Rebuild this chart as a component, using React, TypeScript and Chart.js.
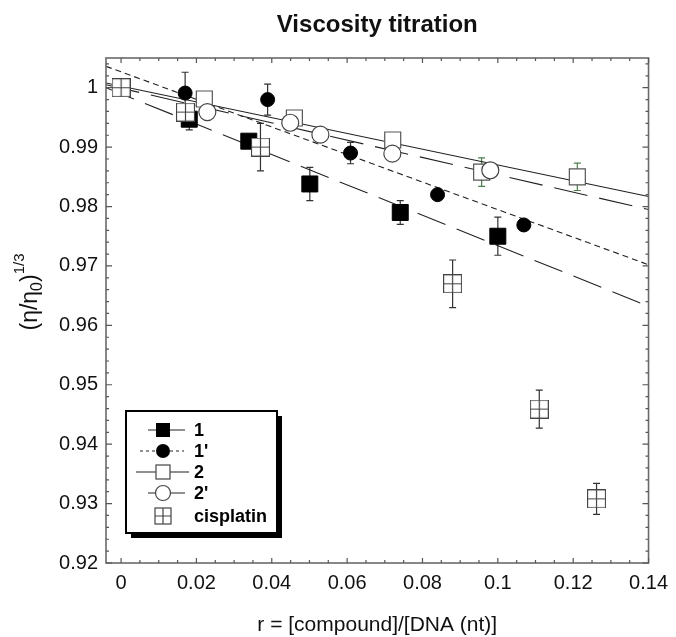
import React, { useEffect, useRef } from 'react';
import { Chart, registerables } from 'chart.js';
Chart.register(...registerables);

const FONT = '"Liberation Sans", Arial, Helvetica, sans-serif';

const X_MIN = -0.004;
const X_MAX = 0.14;
const Y_MIN = 0.92;
const Y_MAX = 1.005;

const xTickValues = [0, 0.02, 0.04, 0.06, 0.08, 0.1, 0.12, 0.14];
const xTickLabels = ['0', '0.02', '0.04', '0.06', '0.08', '0.1', '0.12', '0.14'];
const yTickValues = [0.92, 0.93, 0.94, 0.95, 0.96, 0.97, 0.98, 0.99, 1.0];
const yTickLabels = ['0.92', '0.93', '0.94', '0.95', '0.96', '0.97', '0.98', '0.99', '1'];

// series 1 (filled squares)
const s1X = [0, 0.0181, 0.0339, 0.0501, 0.0741, 0.1];
const s1Y = [1.0, 0.9947, 0.991, 0.9838, 0.979, 0.975];
const s1Err = [0, 0.0018, 0.001, 0.0028, 0.002, 0.0032];

// series 1' (filled circles)
const s1pX = [0, 0.017, 0.0389, 0.0609, 0.084, 0.1069];
const s1pY = [1.0, 0.9991, 0.998, 0.989, 0.982, 0.9769];
const s1pErr = [0, 0.0035, 0.0026, 0.0018, 0, 0];

// series 2 (open squares)
const s2X = [0, 0.0221, 0.046, 0.0721, 0.0957, 0.1211];
const s2Y = [1.0, 0.9981, 0.9949, 0.9912, 0.9858, 0.985];
const s2Err = [0, 0.001, 0.0012, 0.0008, 0.0024, 0.0023];

// series 2' (open circles)
const s2pX = [0, 0.0229, 0.0449, 0.0529, 0.072, 0.098];
const s2pY = [1.0, 0.9959, 0.9941, 0.9921, 0.9889, 0.9861];

// cisplatin (crossed squares)
const cisX = [0, 0.0171, 0.037, 0.088, 0.111, 0.1262];
const cisY = [1.0, 0.9959, 0.99, 0.967, 0.9459, 0.9308];
const cisErr = [0, 0, 0.004, 0.004, 0.0032, 0.0026];

// linear fits (end points)
const fit1X = [-0.004, 0.14];
const fit1Y = [1.0, 0.9632];
const fit1pX = [-0.004, 0.14];
const fit1pY = [1.0036, 0.9702];
const fit2X = [-0.004, 0.14];
const fit2Y = [1.0008, 0.9817];
const fit2pX = [-0.004, 0.14];
const fit2pY = [1.0005, 0.9795];

const pts = (xs: number[], ys: number[]) => xs.map((x, i) => ({ x, y: ys[i] }));

function makeCrossSquare(size: number, fill: string) {
  const c = document.createElement('canvas');
  c.width = size + 1;
  c.height = size + 1;
  const g = c.getContext('2d')!;
  g.fillStyle = fill;
  g.fillRect(0.5, 0.5, size, size);
  g.strokeStyle = '#444';
  g.lineWidth = 1.2;
  g.strokeRect(0.5, 0.5, size, size);
  g.beginPath();
  const m = (size + 1) / 2;
  g.moveTo(m, 0.5);
  g.lineTo(m, size + 0.5);
  g.moveTo(0.5, m);
  g.lineTo(size + 0.5, m);
  g.stroke();
  return c;
}

function drawYTitle(ctx: CanvasRenderingContext2D, cx: number, cy: number) {
  const segs = [
    { t: '(\u03b7/\u03b7', size: 23, dy: 0 },
    { t: '0', size: 16, dy: 7 },
    { t: ')', size: 23, dy: 0 },
    { t: '1/3', size: 15, dy: -11 },
  ];
  ctx.save();
  let total = 0;
  const widths = segs.map((s) => {
    ctx.font = `${s.size}px ${FONT}`;
    const w = ctx.measureText(s.t).width;
    total += w;
    return w;
  });
  ctx.translate(cx, cy);
  ctx.rotate(-Math.PI / 2);
  ctx.fillStyle = '#111';
  ctx.textBaseline = 'middle';
  ctx.textAlign = 'left';
  let x = -total / 2;
  segs.forEach((s, i) => {
    ctx.font = `${s.size}px ${FONT}`;
    ctx.fillText(s.t, x, s.dy);
    x += widths[i];
  });
  ctx.restore();
}

const decorPlugin = {
  id: 'decor',
  beforeDatasetsDraw(chart: any) {
    const ctx = chart.ctx as CanvasRenderingContext2D;
    const xs = chart.scales.x;
    const ys = chart.scales.y;
    ctx.save();
    chart.data.datasets.forEach((ds: any) => {
      if (!ds.errors) return;
      ctx.strokeStyle = ds.errorColor || '#333';
      ctx.lineWidth = 1.2;
      ds.data.forEach((p: any, i: number) => {
        const e = ds.errors[i];
        if (!e) return;
        const px = xs.getPixelForValue(p.x);
        const yt = ys.getPixelForValue(p.y + e);
        const yb = ys.getPixelForValue(p.y - e);
        ctx.beginPath();
        ctx.moveTo(px, yt);
        ctx.lineTo(px, yb);
        ctx.moveTo(px - 3.5, yt);
        ctx.lineTo(px + 3.5, yt);
        ctx.moveTo(px - 3.5, yb);
        ctx.lineTo(px + 3.5, yb);
        ctx.stroke();
      });
    });
    ctx.restore();
  },
  afterDraw(chart: any) {
    const ctx = chart.ctx as CanvasRenderingContext2D;
    const a = chart.chartArea;
    const xs = chart.scales.x;
    const ys = chart.scales.y;
    ctx.save();
    // frame
    ctx.strokeStyle = '#6a6a6a';
    ctx.lineWidth = 1.6;
    ctx.strokeRect(a.left, a.top, a.right - a.left, a.bottom - a.top);
    // ticks
    ctx.lineWidth = 1.2;
    ctx.strokeStyle = '#555';
    ctx.beginPath();
    for (let k = 0; k <= 28; k++) {
      const v = k * 0.005;
      const px = xs.getPixelForValue(v);
      const len = k % 4 === 0 ? 5 : 3;
      ctx.moveTo(px, a.bottom);
      ctx.lineTo(px, a.bottom - len);
      ctx.moveTo(px, a.top);
      ctx.lineTo(px, a.top + len);
    }
    for (let k = 0; k <= 42; k++) {
      const v = 0.92 + k * 0.002;
      if (v > Y_MAX + 1e-9) break;
      const py = ys.getPixelForValue(v);
      const len = k % 5 === 0 ? 6 : 3;
      ctx.moveTo(a.left, py);
      ctx.lineTo(a.left + len, py);
      ctx.moveTo(a.right, py);
      ctx.lineTo(a.right - len, py);
    }
    ctx.stroke();

    // title
    ctx.fillStyle = '#111';
    ctx.font = `bold 24px ${FONT}`;
    ctx.textAlign = 'center';
    ctx.textBaseline = 'middle';
    ctx.fillText('Viscosity titration', (a.left + a.right) / 2, 25);

    // x title
    ctx.font = `21px ${FONT}`;
    ctx.fillText('r = [compound]/[DNA (nt)]', (a.left + a.right) / 2, 625);

    // y title
    drawYTitle(ctx, 31, 292);

    // legend
    const L = { x: 126, y: 411, w: 151, h: 122 };
    ctx.fillStyle = '#000';
    ctx.fillRect(L.x + 5, L.y + 5, L.w, L.h);
    ctx.fillStyle = '#fff';
    ctx.fillRect(L.x, L.y, L.w, L.h);
    ctx.strokeStyle = '#000';
    ctx.lineWidth = 2;
    ctx.strokeRect(L.x, L.y, L.w, L.h);

    const sx = 163;
    const rows = [430, 451, 472, 493, 516];
    const labels = ['1', "1'", '2', "2'", 'cisplatin'];
    ctx.lineWidth = 1.2;
    // row 1
    ctx.strokeStyle = '#222';
    ctx.beginPath();
    ctx.moveTo(148, rows[0]);
    ctx.lineTo(185, rows[0]);
    ctx.stroke();
    ctx.fillStyle = '#000';
    ctx.fillRect(sx - 7, rows[0] - 7, 14, 14);
    // row 1'
    ctx.setLineDash([3, 3]);
    ctx.beginPath();
    ctx.moveTo(140, rows[1]);
    ctx.lineTo(184, rows[1]);
    ctx.stroke();
    ctx.setLineDash([]);
    ctx.beginPath();
    ctx.arc(sx, rows[1], 7, 0, Math.PI * 2);
    ctx.fill();
    // row 2
    ctx.beginPath();
    ctx.moveTo(136, rows[2]);
    ctx.lineTo(189, rows[2]);
    ctx.stroke();
    ctx.fillStyle = '#fff';
    ctx.strokeStyle = '#444';
    ctx.fillRect(sx - 7, rows[2] - 7, 14, 14);
    ctx.strokeRect(sx - 7, rows[2] - 7, 14, 14);
    // row 2'
    ctx.strokeStyle = '#222';
    ctx.beginPath();
    ctx.moveTo(148, rows[3]);
    ctx.lineTo(185, rows[3]);
    ctx.stroke();
    ctx.beginPath();
    ctx.arc(sx, rows[3], 7.5, 0, Math.PI * 2);
    ctx.fill();
    ctx.strokeStyle = '#444';
    ctx.stroke();
    // row cisplatin
    ctx.strokeStyle = '#444';
    ctx.strokeRect(sx - 8, rows[4] - 8, 16, 16);
    ctx.beginPath();
    ctx.moveTo(sx, rows[4] - 8);
    ctx.lineTo(sx, rows[4] + 8);
    ctx.moveTo(sx - 8, rows[4]);
    ctx.lineTo(sx + 8, rows[4]);
    ctx.stroke();

    ctx.fillStyle = '#000';
    ctx.font = `bold 18px ${FONT}`;
    ctx.textAlign = 'left';
    ctx.textBaseline = 'middle';
    labels.forEach((t, i) => ctx.fillText(t, 194, rows[i] + 1));
    ctx.restore();
  },
};

export default function App() {
  const ref = useRef<HTMLCanvasElement>(null);
  useEffect(() => {
    document.body.style.margin = '0';
    const canvas = ref.current!;
    const cisStyle = makeCrossSquare(18, '#fff');
    const lineDs = (xs: number[], ys: number[], dash: number[]) => ({
      data: pts(xs, ys),
      showLine: true,
      pointRadius: 0,
      borderColor: '#222',
      borderWidth: 1.1,
      borderDash: dash,
      fill: false,
      order: 10,
    });
    const chart = new Chart(canvas, {
      type: 'scatter',
      data: {
        datasets: [
          lineDs(fit1X, fit1Y, [30, 12]),
          lineDs(fit1pX, fit1pY, [6, 4]),
          lineDs(fit2X, fit2Y, []),
          lineDs(fit2pX, fit2pY, [34, 12]),
          {
            data: pts(s1X, s1Y),
            errors: s1Err,
            pointStyle: 'rect',
            pointRadius: 11.3,
            backgroundColor: '#000',
            borderColor: '#000',
            borderWidth: 1,
            order: 5,
          } as any,
          {
            data: pts(s1pX, s1pY),
            errors: s1pErr,
            pointStyle: 'circle',
            pointRadius: 7,
            backgroundColor: '#000',
            borderColor: '#000',
            borderWidth: 1,
            order: 4,
          } as any,
          {
            data: pts(s2X, s2Y),
            errors: s2Err,
            errorColor: '#4e7d4e',
            pointStyle: 'rect',
            pointRadius: 11.3,
            backgroundColor: '#fff',
            borderColor: '#555',
            borderWidth: 1.2,
            order: 3,
          } as any,
          {
            data: pts(s2pX, s2pY),
            pointStyle: 'circle',
            pointRadius: 8.5,
            backgroundColor: '#fff',
            borderColor: '#444',
            borderWidth: 1.2,
            order: 2,
          } as any,
          {
            data: pts(cisX, cisY),
            errors: cisErr,
            pointStyle: cisStyle,
            pointRadius: 9,
            order: 1,
          } as any,
        ],
      },
      options: {
        animation: false,
        responsive: false,
        maintainAspectRatio: false,
        events: [],
        layout: { padding: { top: 58, right: 22, left: 0, bottom: 0 } },
        plugins: {
          legend: { display: false },
          title: { display: false },
          tooltip: { enabled: false },
        },
        scales: {
          x: {
            type: 'linear',
            min: X_MIN,
            max: X_MAX,
            grid: { display: false, drawTicks: false },
            border: { display: false },
            ticks: {
              font: { family: FONT, size: 20 },
              color: '#111',
              padding: 8,
              autoSkip: false,
              maxRotation: 0,
              callback: (v: any) => {
                const i = xTickValues.findIndex((t) => Math.abs(t - Number(v)) < 1e-9);
                return i >= 0 ? xTickLabels[i] : '';
              },
            },
            afterBuildTicks: (s: any) => {
              s.ticks = xTickValues.map((v) => ({ value: v }));
            },
            afterFit: (s: any) => {
              s.height = 74;
            },
          },
          y: {
            type: 'linear',
            min: Y_MIN,
            max: Y_MAX,
            grid: { display: false, drawTicks: false },
            border: { display: false },
            ticks: {
              font: { family: FONT, size: 20 },
              color: '#111',
              padding: 8,
              autoSkip: false,
              callback: (v: any) => {
                const i = yTickValues.findIndex((t) => Math.abs(t - Number(v)) < 1e-9);
                return i >= 0 ? yTickLabels[i] : '';
              },
            },
            afterBuildTicks: (s: any) => {
              s.ticks = yTickValues.map((v) => ({ value: v }));
            },
            afterFit: (s: any) => {
              s.width = 106;
            },
          },
        },
      },
      plugins: [decorPlugin],
    });
    return () => chart.destroy();
  }, []);
  return <canvas ref={ref} width={676} height={637} style={{ display: 'block' }} />;
}
